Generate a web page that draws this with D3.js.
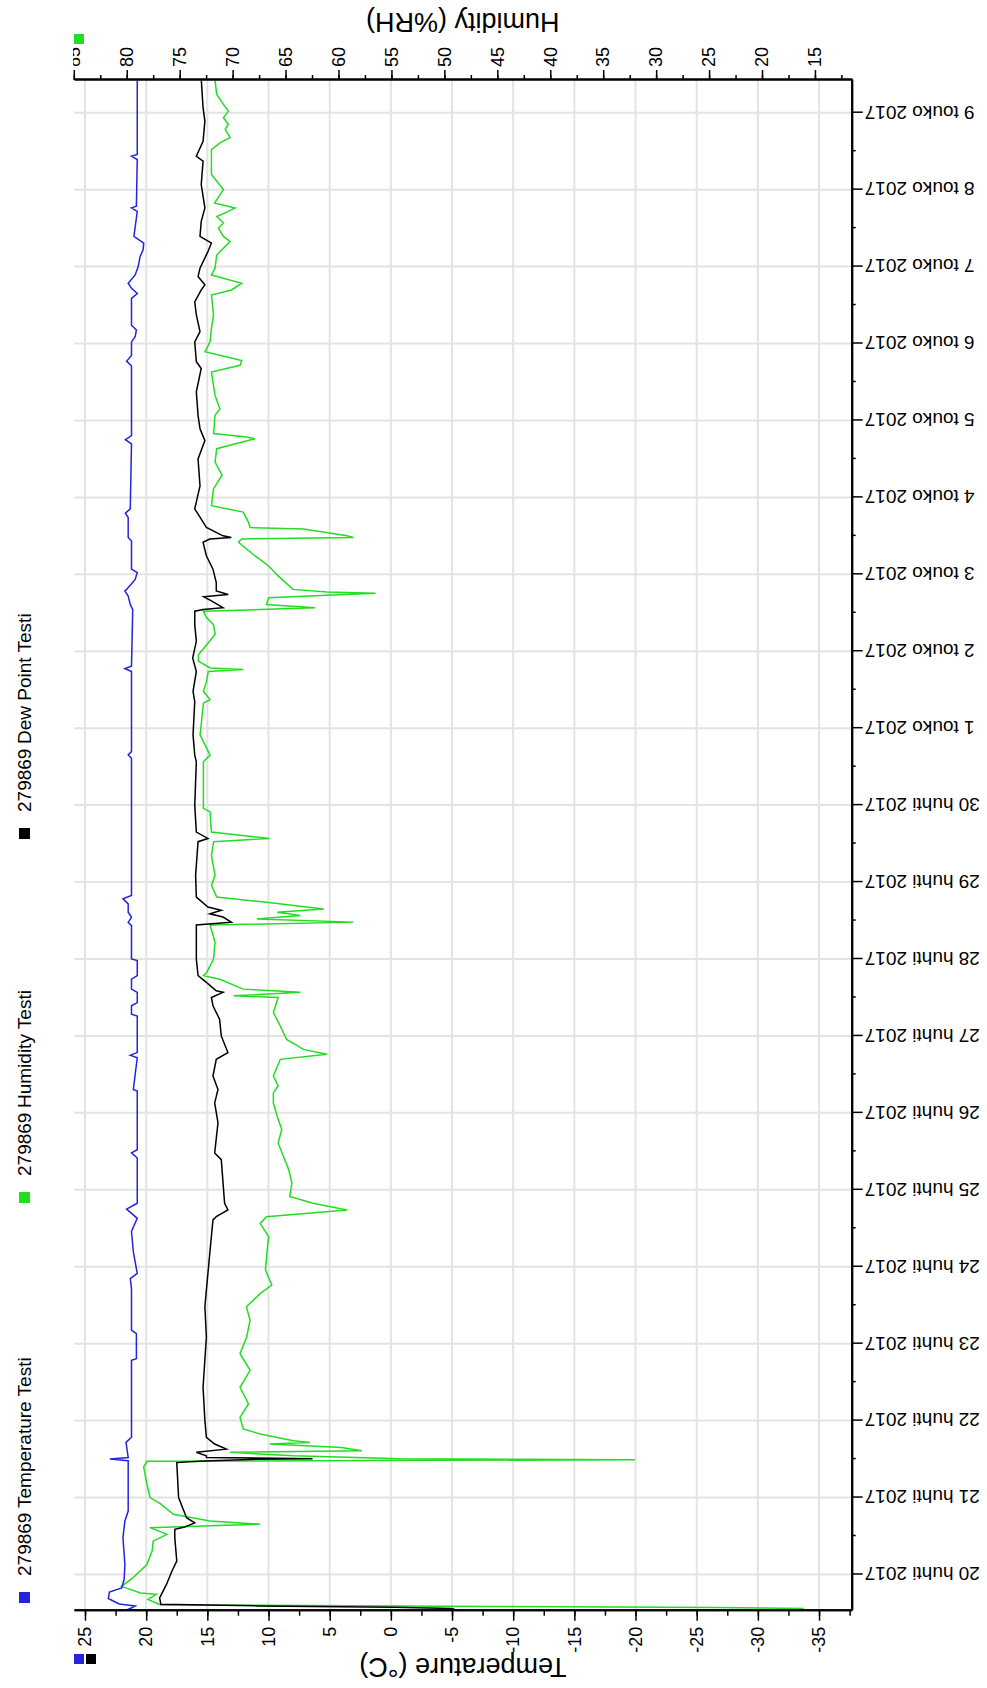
<!DOCTYPE html>
<html>
<head>
<meta charset="utf-8">
<script src="https://cdn.jsdelivr.net/npm/d3@7/dist/d3.min.js"></script>
<style>
  body { margin: 0; background: #fff; }
  text { font-family: "Liberation Sans", Arial, sans-serif; fill: #000; }
</style>
</head>
<body>
<svg id="chart" width="987" height="1688"></svg>
<script>
// hours counted from 20 huhti 2017 00:00
const START = new Date(2017, 3, 20)
const hoursToDate = h => new Date(START.getTime() + h * 3600e3)

const monthNames = ["tammi", "helmi", "maalis", "huhti", "touko", "kesä"]
const temperatureTicks = [25, 20, 15, 10, 5, 0, -5, -10, -15, -20, -25, -30, -35]
const humidityTicks = [85, 80, 75, 70, 65, 60, 55, 50, 45, 40, 35, 30, 25, 20, 15]
const legendNames = ["Temperature Testi", "Humidity Testi", "Dew Point Testi"]
const loggerId = "279869"

// [hour, °C]
const temperature = [
  [-11.2, 21.7], [-10.6, 21.3], [-9.8, 20.9], [-9.2, 22.2], [-7.5, 23.1], [-5.5, 23.0], [-4.2, 22.0],
  [-1.5, 21.8], [3.1, 21.74], [11.5, 21.9], [16.7, 21.74], [19.8, 21.47], [35.5, 21.47], [36, 22.96],
  [36.5, 21.47], [41.2, 21.65], [42.8, 21.2], [66.8, 21.2], [67.3, 20.8], [75.1, 20.8], [76.2, 21.2],
  [89.2, 21.2], [92.3, 21.3], [93.9, 20.73], [100.7, 21.05], [107, 21.2], [111.1, 20.73], [114, 21.6],
  [115.8, 20.73], [129.9, 20.73], [131.5, 21.2], [132.5, 20.73], [150.8, 20.73], [151.3, 21.05],
  [161.2, 20.73], [162, 21.3], [162.8, 20.73], [174.2, 20.73], [174.8, 21.2], [177.4, 21.2],
  [178.4, 20.73], [181.6, 20.73], [182.6, 21.2], [185.7, 21.2], [186.8, 20.73], [191.5, 20.73],
  [192, 21.2], [202.4, 21.2], [203.4, 21.47], [205, 21.2], [206.6, 21.47], [209.2, 21.47],
  [210.8, 21.9], [211.8, 21.2], [254.6, 21.2], [255.7, 21.47], [256.7, 21.2], [281.7, 21.2],
  [282.6, 21.74], [283.3, 21.2], [301, 21.1], [302.6, 21.3], [305.2, 21.47], [306.8, 21.74],
  [307.3, 21.6], [310.4, 20.9], [312.5, 20.73], [313.6, 21.2], [322.4, 21.2], [323.5, 21.47],
  [329.7, 21.47], [331.1, 21.7], [332.4, 21.3], [352.7, 21.2], [354, 21.7], [355.3, 21.2],
  [377, 21.2], [378.5, 21.6], [380.3, 21.2], [384.5, 21.2], [386.1, 20.9], [388.2, 20.8],
  [389.7, 21.2], [398.1, 21.2], [399.6, 20.73], [401.2, 21.2], [402.8, 21.47], [405.4, 20.9],
  [408, 20.65], [411.1, 20.5], [413.2, 20.25], [415.3, 20.2], [417.4, 21.0], [425.2, 20.73],
  [426.3, 21.2], [426.8, 20.8], [441.4, 20.73], [442.4, 21.2], [443, 20.73], [466, 20.73]
]

// [hour, °C]
const dewPoint = [
  [-11.2, -5.4], [-10.6, -5.0], [-10.2, -0.3], [-9.8, 10.9], [-9.3, 18.8], [-7.3, 18.9], [-3.1, 18.34],
  [1, 17.9], [4.2, 17.5], [11.5, 17.66], [14.1, 17.66], [14.8, 16.85], [16.1, 16.03], [17.7, 16.7],
  [24, 17.35], [34.9, 17.5], [35.4, 15.3], [35.9, 11.5], [36.1, 6.4], [36.5, 15.08], [37, 15.08],
  [38.1, 15.9], [39.1, 13.45], [40.7, 14.4], [42.8, 15.08], [48, 15.2], [58.4, 15.35], [74.1, 15.08],
  [83.5, 15.2], [88.7, 15.08], [100.2, 14.8], [110.6, 14.54], [111.6, 14.27], [113.7, 13.32],
  [115.8, 13.59], [129.4, 13.86], [131.5, 14.4], [140.9, 14.13], [147.1, 14.4], [151.3, 14.13],
  [155.5, 14.54], [160.7, 14.27], [162.8, 13.32], [168, 13.86], [173.2, 14.0], [177.4, 14.54],
  [180, 14.67], [181.6, 13.72], [182.1, 14.27], [184.7, 15.08], [186.8, 15.76], [192, 15.9],
  [202.6, 15.9], [203.5, 13.04], [205.1, 13.72], [206.1, 14.8], [207.2, 13.86], [208.2, 14.95],
  [211.3, 15.9], [218.1, 15.96], [228.6, 15.76], [229.6, 14.95], [231.6, 15.9], [240, 16.03],
  [253.5, 15.9], [255.6, 16.03], [261.9, 16.17], [272.3, 16.03], [275.5, 16.17], [281.7, 15.9],
  [285.9, 16.2], [291.1, 15.9], [296.3, 16.03], [300.5, 16.03], [301, 15.35], [301.6, 13.72],
  [303.7, 14.67], [305, 15.3], [305.7, 13.3], [306.8, 14.27], [309.4, 14.27], [313.6, 14.54],
  [317.8, 15.08], [322, 15.35], [323, 14.8], [323.5, 13.04], [324, 13.72], [326.6, 15.08],
  [329.2, 15.5], [332.4, 16.03], [339.6, 15.6], [348, 15.76], [353.7, 15.2], [357.4, 15.6],
  [361.6, 15.76], [368.9, 15.9], [376.2, 15.5], [378.3, 15.9], [384.5, 16.03], [387.7, 15.6],
  [392.9, 15.9], [397, 16.03], [400.7, 15.5], [402.3, 15.2], [404.9, 15.76], [407.5, 15.6],
  [412.7, 14.95], [415.3, 14.67], [417.4, 15.6], [422.1, 15.5], [426.3, 15.2], [433.6, 15.5],
  [440.9, 15.35], [442.4, 15.9], [447.1, 15.35], [453.4, 15.2], [457.6, 15.35], [466, 15.49]
]

// [hour, %RH]
const humidity = [
  [-11.2, 16.5], [-10.6, 16.2], [-10.3, 24.4], [-9.9, 50], [-9.5, 76.8], [-7.8, 78], [-6.2, 77.2],
  [-5.8, 78.7], [-3.7, 80.5], [-1, 79.4], [3.1, 78.1], [7.3, 77.6], [10.4, 77.5], [12.5, 76.2],
  [14.6, 77.8], [15.7, 67.4], [16.7, 72.13], [18.8, 75.6], [22, 76.8], [24, 77.8], [28.3, 78.1],
  [33.5, 78.4], [35.3, 78.1], [35.8, 32], [36.1, 54.2], [37, 64.26], [38.1, 70.24], [38.6, 57.8],
  [39.6, 59.7], [40.7, 66.5], [41.2, 62.7], [41.7, 64.26], [43.8, 67.4], [45.4, 69], [49, 69.3],
  [53.2, 68.5], [58.4, 69.3], [63.7, 68.35], [68.9, 69.3], [74.1, 68.67], [79.3, 68.35],
  [83.5, 68.7], [87.6, 67.4], [90.3, 66.3], [95, 66.9], [102.3, 66.7], [105.4, 66.6], [109.5, 67.4],
  [111.6, 66.8], [113.7, 59.2], [115.8, 62.4], [117.9, 64.6], [122.1, 64.4], [126.3, 64.7],
  [130.4, 65.2], [134.6, 65.7], [138.8, 65.36], [143, 65.8], [147.1, 66.15], [150.3, 66.15],
  [152.4, 65.7], [155.5, 66.15], [160.7, 65.5], [162.3, 61.1], [163.8, 63.3], [166.9, 64.9],
  [171.1, 65.5], [175.3, 66.15], [180, 65.7], [180.5, 69.9], [181.6, 63.6], [182.6, 69],
  [185.7, 71.2], [186.8, 72.76], [187.8, 72.45], [192, 71.8], [197.2, 71.66], [202.6, 72.13],
  [203.5, 58.6], [204.5, 67.7], [205.6, 63.6], [206.6, 65.8], [207.6, 61.4], [209.7, 66.8],
  [211.3, 71.5], [215, 72], [218.1, 71.66], [224.3, 72], [228.6, 71.8], [229.6, 66.5], [231.6, 72],
  [237.9, 72.13], [239, 72.76], [253.5, 72.76], [255.6, 72.13], [257.7, 72.45], [261.9, 73.07],
  [271.8, 72.76], [272.9, 72.13], [275.5, 72.76], [278.6, 72.45], [281.7, 72.3], [282.3, 69],
  [282.8, 72.13], [284.9, 73.23], [286.9, 73.23], [290, 72.45], [293.2, 71.66], [296.3, 71.8],
  [298.4, 72.45], [300.5, 72.76], [301, 67.4], [301.6, 62.2], [302.6, 66.8], [304.7, 66.6],
  [305.6, 60], [306.1, 56.5], [306.5, 61.1], [307.3, 64.3], [311.5, 65.7], [314.6, 66.6],
  [317.8, 67.9], [322, 69.45], [323, 69.14], [323.5, 58.6], [324, 59.2], [326.1, 63.3],
  [326.6, 68.35], [328.2, 68.5], [331.4, 69], [333.4, 72], [338.7, 71.8], [342.9, 71], [347, 71.66],
  [351.2, 71.5], [354.3, 67.9], [354.8, 68.67], [355.9, 71.8], [361.6, 71.66], [363.6, 71.2],
  [367.8, 71.66], [375.1, 72], [377.2, 69.3], [378.7, 69.14], [381.4, 72.6], [384.5, 72.13],
  [388.7, 72], [392.9, 71.8], [399.1, 72], [400.7, 70.1], [402.8, 69.14], [405.4, 72], [407.5, 71.66],
  [411.6, 71.5], [415.8, 70.24], [417.4, 70.87], [420, 71.34], [421.6, 70.87], [423.6, 71.5],
  [425.2, 70.4], [426.3, 69.77], [427.8, 71.7], [432, 70.87], [436.7, 72], [444.5, 72], [446.6, 71.2],
  [448.2, 70.24], [450.8, 70.7], [452.4, 70.4], [454.4, 70.87], [456.5, 70.4], [458.6, 70.87],
  [461.7, 71.5], [466, 71.66]
]

//-----------------------------------------------------------------
// chart is laid out landscape, then turned a quarter to the left
//-----------------------------------------------------------------
const PAGE_H = 1688
const LEFT = 77.3, RIGHT = 1608, TOP = 74, BOTTOM = 851.7

const BLUE = "#2424e0", GREEN = "#22dd22", BLACK = "#000"

const svg = d3.select("#chart")
const g = svg.append("g").attr("transform", `translate(0,${PAGE_H}) rotate(-90)`)

const x = d3.scaleTime()
  .domain([hoursToDate(-11.3), hoursToDate(466.2)])
  .range([LEFT, RIGHT])
const yTemp = d3.scaleLinear().domain([25.9, -37.67]).range([TOP, BOTTOM])
const yHum = d3.scaleLinear().domain([84.98, 11.53]).range([TOP, BOTTOM])

const days = d3.timeDay.range(hoursToDate(-11.3), hoursToDate(466.2))
const noons = d3.timeHour.every(12).range(hoursToDate(-11.3), hoursToDate(466.2)).filter(d => d.getHours() === 12)

// grid
const grid = g.append("g").attr("stroke", "#e3e3e3").attr("stroke-width", 2)
grid.selectAll(".gx").data(days).join("line")
  .attr("x1", d => x(d)).attr("x2", d => x(d))
  .attr("y1", TOP).attr("y2", BOTTOM)
grid.selectAll(".gy").data(temperatureTicks).join("line")
  .attr("x1", LEFT).attr("x2", RIGHT)
  .attr("y1", d => yTemp(d)).attr("y2", d => yTemp(d))

// series
const lineT = d3.line().x(d => x(hoursToDate(d[0]))).y(d => yTemp(d[1]))
const lineH = d3.line().x(d => x(hoursToDate(d[0]))).y(d => yHum(d[1]))

g.append("path").datum(humidity).attr("d", lineH)
  .attr("fill", "none").attr("stroke", GREEN).attr("stroke-width", 1.5)
g.append("path").datum(dewPoint).attr("d", lineT)
  .attr("fill", "none").attr("stroke", BLACK).attr("stroke-width", 1.5)
g.append("path").datum(temperature).attr("d", lineT)
  .attr("fill", "none").attr("stroke", BLUE).attr("stroke-width", 1.5)

// axes
function styleAxis(sel) {
  sel.select(".domain").attr("stroke", "#000").attr("stroke-width", 2)
  sel.selectAll(".tick line").attr("stroke", "#000").attr("stroke-width", 1.5)
  sel.selectAll("text").style("font-size", "18px").attr("fill", "#000")
}

const plainNumber = d => String(d)   // hyphen-minus, as in the original
const minorTemp = d3.range(25, -37.6, -2.5)
const minorHum = d3.range(85, 11, -2.5)

g.append("g").attr("transform", `translate(${LEFT},0)`)
  .call(d3.axisLeft(yTemp).tickValues(minorTemp).tickSize(5).tickFormat("").tickSizeOuter(0))
  .call(styleAxis)
g.append("g").attr("transform", `translate(${LEFT},0)`)
  .call(d3.axisLeft(yTemp).tickValues(temperatureTicks).tickSize(10).tickPadding(6)
    .tickFormat(plainNumber).tickSizeOuter(0))
  .call(styleAxis)

svg.append("defs").append("clipPath").attr("id", "humclip")
  .append("rect").attr("x", RIGHT - 20).attr("y", TOP - 1).attr("width", 120).attr("height", BOTTOM - TOP + 20)

const humAxis = g.append("g").attr("clip-path", "url(#humclip)")
humAxis.append("g").attr("transform", `translate(${RIGHT},0)`)
  .call(d3.axisRight(yHum).tickValues(minorHum).tickSize(5).tickFormat("").tickSizeOuter(0))
  .call(styleAxis)
humAxis.append("g").attr("transform", `translate(${RIGHT},0)`)
  .call(d3.axisRight(yHum).tickValues(humidityTicks).tickSize(10).tickPadding(3)
    .tickFormat(plainNumber).tickSizeOuter(0))
  .call(styleAxis)

const fmtDay = d => `${d.getDate()} ${monthNames[d.getMonth()]} ${d.getFullYear()}`

g.append("g").attr("transform", `translate(0,${BOTTOM})`)
  .call(d3.axisBottom(x).tickValues(noons).tickSize(4).tickFormat("").tickSizeOuter(0))
  .call(styleAxis)
g.append("g").attr("transform", `translate(0,${BOTTOM})`)
  .call(d3.axisBottom(x).tickValues(days).tickSize(11).tickFormat(fmtDay).tickSizeOuter(0))
  .call(styleAxis)
  .call(a => a.selectAll("text")
    .attr("transform", "rotate(-90)")
    .attr("text-anchor", "end")
    .attr("x", -13).attr("y", 0).attr("dy", "0.35em")
    .style("font-size", "19px"))

// axis titles
g.append("text")
  .attr("transform", `translate(30,${(TOP + BOTTOM) / 2}) rotate(-90)`)
  .attr("text-anchor", "middle").style("font-size", "27px")
  .text("Temperature (°C)")
g.append("text")
  .attr("transform", `translate(1675,${(TOP + BOTTOM) / 2}) rotate(-90)`)
  .attr("text-anchor", "middle").style("font-size", "27px")
  .text("Humidity (%RH)")

// colour keys beside the axes
g.append("rect").attr("x", 1644).attr("y", 74).attr("width", 10).attr("height", 10).attr("fill", GREEN)
g.append("rect").attr("x", 24).attr("y", 74).attr("width", 10).attr("height", 10).attr("fill", BLUE)
g.append("rect").attr("x", 24).attr("y", 86).attr("width", 10).attr("height", 10).attr("fill", BLACK)

// legend
const legendX = [85, 485, 849]
const legendColors = [BLUE, GREEN, BLACK]
const legend = g.append("g")
legendNames.forEach((name, i) => {
  legend.append("rect").attr("x", legendX[i]).attr("y", 19)
    .attr("width", 11).attr("height", 11).attr("fill", legendColors[i])
  legend.append("text").attr("x", legendX[i] + 27).attr("y", 31)
    .style("font-size", "19px").text(loggerId)
  legend.append("text").attr("x", legendX[i] + 27 + 68).attr("y", 31)
    .style("font-size", "19px").text(name)
})
</script>
</body>
</html>
